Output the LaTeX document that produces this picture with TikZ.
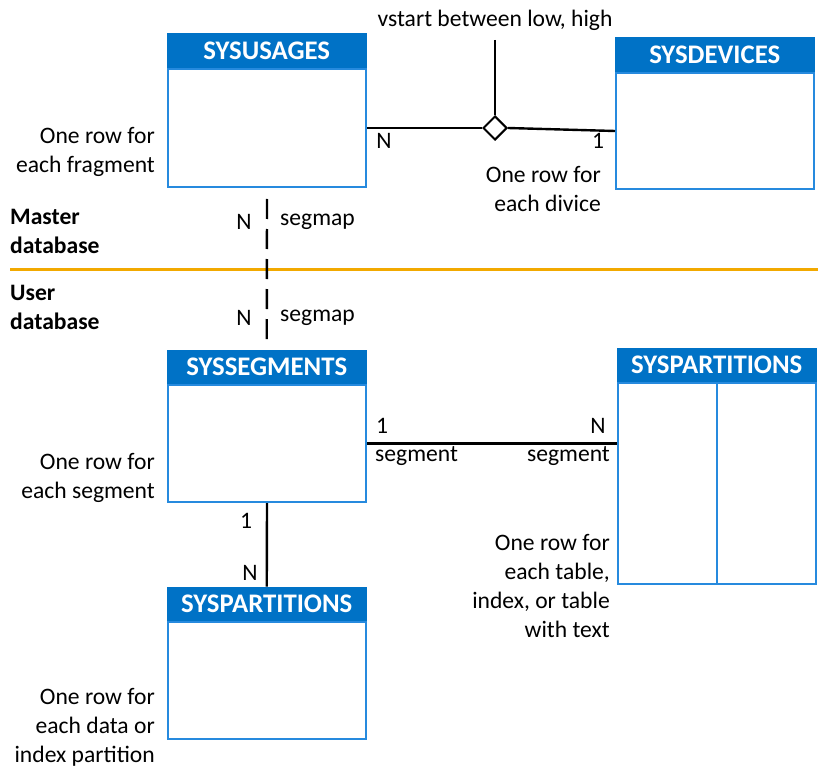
\documentclass[tikz,border=0pt]{standalone}
\usepackage{fontspec}
\setmainfont{Carlito}
\usetikzlibrary{shapes.geometric,calc}
\definecolor{headblue}{RGB}{0,114,198}
\definecolor{edgeblue}{RGB}{38,138,222}
\definecolor{divider}{RGB}{242,169,0}
\tikzset{
  head/.style={draw=headblue, fill=headblue, line width=1.5pt, text=white,
    font=\fontsize{26.8}{30}\selectfont\bfseries, minimum width=198pt,
    minimum height=33pt, inner sep=0pt, anchor=south west},
  body/.style={draw=edgeblue, line width=2pt, minimum width=198pt,
    inner sep=0pt, anchor=north west},
  link/.style={draw=black, line width=2.4pt},
  lbl/.style={font=\fontsize{23.6}{29}\selectfont, inner sep=0pt},
  note/.style={lbl, align=right, anchor=east},
  side/.style={lbl, align=left, anchor=west, font=\fontsize{23.6}{29}\selectfont\bfseries},
  rel/.style={diamond, draw=black, fill=white, line width=2pt,
    minimum width=24pt, minimum height=24pt, inner sep=0pt},
}
\begin{document}
\begin{tikzpicture}[x=1pt,y=-1pt]
\useasboundingbox (0,0) rectangle (818,767);

% master / user split
\draw[draw=divider, line width=3pt] (10,269) -- (818,269);
\node[side] (master) at (10,231) {Master\\database};
\node[side] (user) at (10,307) {User\\database};

% tables
\node[head] (usagesH) at (167,68) {SYSUSAGES};
\node[body, minimum height=118pt] (usagesB) at (167,68) {};

\node[head] (devicesH) at (615,72) {SYSDEVICES};
\node[body, minimum height=116pt] (devicesB) at (615,72) {};

\node[head] (segH) at (167,384) {SYSSEGMENTS};
\node[body, minimum height=117pt] (segB) at (167,384) {};

\node[head] (partRH) at (617,382) {SYSPARTITIONS};
\node[body, minimum height=201pt] (partRB) at (617,382) {};
\draw[draw=edgeblue, line width=2pt] (partRB.north) -- (partRB.south);

\node[head] (partBH) at (167,621) {SYSPARTITIONS};
\node[body, minimum height=117pt] (partBB) at (167,621) {};

% usages -- devices relationship
\node[rel] (rng) at (495,128) {};
\coordinate (cond) at (495,40);
\draw[link] (usagesB.east) -- (rng.west);
\draw[link] (rng.east) -- (devicesB.west);
\draw[link] (cond) -- (rng.north);
\node[lbl] (condtxt) at (495,20) {vstart between low, high};
\node[lbl] (n1) at (384,141) {N};
\node[lbl] (o1) at (598,141) {1};

% usages -- segments across databases
\draw[link, dash pattern=on 20pt off 10pt]
  ($(usagesB.south)+(0,11)$) -- ($(segH.north)+(0,-5)$);
\node[lbl] (n2) at (244,222) {N};
\node[lbl, anchor=west] (sm1) at (280,222) {segmap};
\node[lbl] (n3) at (244,318) {N};
\node[lbl, anchor=west] (sm2) at (280,318) {segmap};

% segments -- partitions (right)
\draw[link] (segB.east) -- (segB.east -| partRB.west);
\node[lbl] (o2) at (382,426) {1};
\node[lbl, anchor=west] (sg1) at (375,456) {segment};
\node[lbl] (n4) at (598,426) {N};
\node[lbl, anchor=east] (sg2) at (610,456) {segment};

% segments -- partitions (below)
\draw[link] (segB.south) -- (partBH.north);
\node[lbl] (o3) at (246,521) {1};
\node[lbl] (n5) at (250,573) {N};

% row notes
\node[note] (t1) at (155,152) {One row for\\each fragment};
\node[note] (t2) at (601,189) {One row for\\each divice};
\node[note] (t3) at (155,478) {One row for\\each segment};
\node[note] (t4) at (610,586) {One row for\\each table,\\index, or table\\with text};
\node[note] (t5) at (155,727) {One row for\\each data or\\index partition};
\end{tikzpicture}
\end{document}
